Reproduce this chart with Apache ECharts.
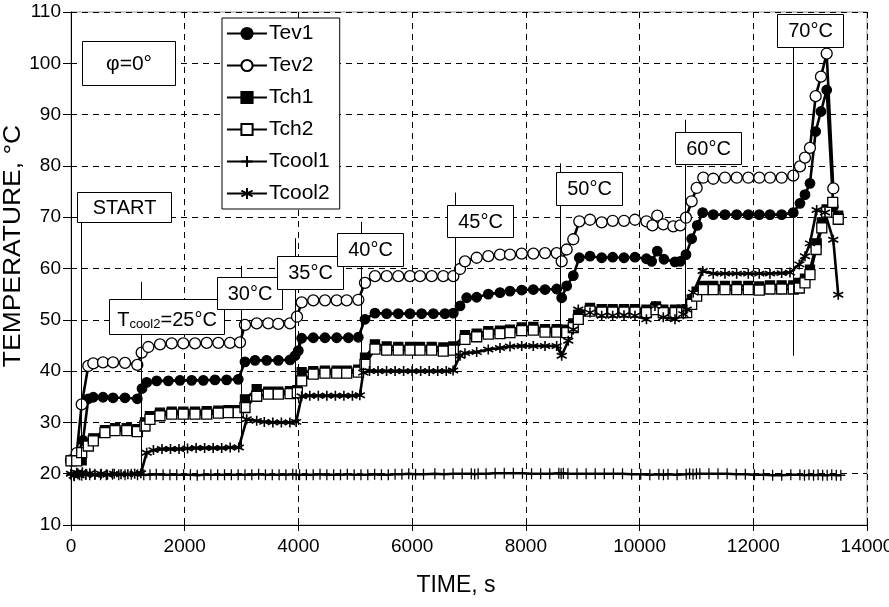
<!DOCTYPE html>
<html><head><meta charset="utf-8">
<script src="https://cdn.jsdelivr.net/npm/echarts@6/dist/echarts.min.js"></script>
<style>html,body{margin:0;padding:0;background:#fff}#c{width:889px;height:607px}</style>
</head><body><div id="c"></div>
<script>
// ---------------- DATA ----------------
const xTicks = [0, 2000, 4000, 6000, 8000, 10000, 12000, 14000];
const yTicks = [10, 20, 30, 40, 50, 60, 70, 80, 90, 100, 110];
const seriesNames = ['Tev1', 'Tev2', 'Tch1', 'Tch2', 'Tcool1', 'Tcool2'];

const tev1 = [[0,22.5],[100,23.2],[211,26.5],[304,34.6],[392,34.9],[563,34.9],[739,34.8],[950,34.8],[1166,34.6],[1249,36.6],[1331,37.8],[1507,38.1],[1712,38.1],[1917,38.2],[2122,38.2],[2327,38.2],[2532,38.3],[2737,38.3],[2942,38.4],[3060,41.8],[3237,42.1],[3442,42.1],[3647,42.1],[3852,42.2],[3940,43.0],[3998,44.0],[4057,46.4],[4261,46.5],[4467,46.5],[4673,46.5],[4879,46.5],[5053,46.6],[5171,50.1],[5346,51.3],[5552,51.2],[5756,51.2],[5962,51.2],[6167,51.2],[6373,51.2],[6578,51.2],[6724,51.3],[6842,52.7],[6959,54.3],[7135,54.4],[7339,55.0],[7545,55.3],[7721,55.6],[7927,55.8],[8131,55.9],[8337,55.9],[8542,56.0],[8630,54.3],[8718,56.6],[8834,58.6],[8940,62.1],[9128,62.4],[9334,62.1],[9527,62.2],[9726,62.1],[9919,62.2],[10121,61.9],[10213,61.4],[10311,63.4],[10429,61.8],[10623,61.3],[10716,61.4],[10816,62.7],[10916,65.8],[11015,68.4],[11110,70.9],[11296,70.5],[11502,70.5],[11708,70.5],[11912,70.5],[12105,70.5],[12294,70.5],[12499,70.5],[12703,70.9],[12821,72.7],[12909,74.4],[12997,76.6],[13097,86.7],[13190,90.6],[13291,94.8],[13407,72.0]];

const tev2 = [[0,22.6],[100,24.0],[188,33.5],[304,41.0],[392,41.5],[563,41.7],[739,41.7],[950,41.6],[1166,41.2],[1243,43.6],[1360,44.7],[1565,45.2],[1771,45.4],[1975,45.4],[2181,45.4],[2387,45.5],[2591,45.5],[2796,45.5],[2972,45.6],[3060,49.0],[3266,49.3],[3470,49.3],[3646,49.2],[3852,49.3],[3975,50.6],[4057,53.4],[4261,53.8],[4467,53.8],[4673,53.8],[4849,53.8],[5053,53.9],[5171,57.2],[5346,58.5],[5552,58.5],[5756,58.5],[5962,58.5],[6138,58.5],[6344,58.5],[6548,58.5],[6724,58.5],[6842,59.9],[6929,61.4],[7135,62.1],[7339,62.4],[7545,62.7],[7721,62.7],[7927,62.9],[8131,62.9],[8337,63.0],[8542,63.0],[8630,61.4],[8718,63.7],[8834,65.7],[8940,69.2],[9128,69.5],[9334,69.0],[9527,69.3],[9726,69.3],[9919,69.5],[10121,69.2],[10227,68.4],[10311,70.3],[10417,68.6],[10593,68.2],[10716,68.4],[10816,69.9],[10916,73.1],[11004,75.7],[11120,77.7],[11296,77.5],[11502,77.7],[11708,77.7],[11912,77.7],[12105,77.7],[12294,77.7],[12499,77.7],[12703,78.1],[12821,79.9],[12909,81.6],[12997,83.5],[13097,93.6],[13190,97.4],[13291,101.9],[13407,75.6]];

const tch1 = [[0,22.6],[100,22.6],[188,22.6],[304,25.9],[392,26.9],[598,28.5],[774,28.9],[980,28.9],[1166,28.7],[1301,30.0],[1389,31.2],[1565,31.9],[1771,32.1],[1975,32.1],[2181,32.1],[2387,32.2],[2591,32.3],[2767,32.4],[2942,32.4],[3060,34.5],[3266,36.5],[3470,36.0],[3646,36.0],[3852,36.1],[3980,36.3],[4057,39.8],[4261,40.0],[4467,40.1],[4673,40.1],[4849,40.1],[5053,40.3],[5171,42.6],[5346,45.2],[5552,44.8],[5756,44.7],[5962,44.7],[6138,44.7],[6344,44.7],[6548,44.6],[6724,44.8],[6929,47.0],[7135,47.3],[7339,47.8],[7545,47.9],[7721,48.1],[7927,48.5],[8131,48.6],[8337,48.2],[8542,48.2],[8718,48.1],[8834,49.3],[8922,51.0],[9128,52.3],[9334,52.1],[9527,52.1],[9726,52.1],[9919,52.1],[10121,52.0],[10290,52.6],[10417,52.0],[10623,52.0],[10740,52.0],[10828,52.1],[10916,54.0],[11004,55.5],[11120,56.6],[11296,56.6],[11502,56.6],[11708,56.6],[11912,56.6],[12105,56.5],[12294,56.7],[12499,56.7],[12703,56.7],[12809,57.2],[12909,58.0],[12997,59.8],[13115,64.9],[13205,69.0],[13291,71.5],[13397,72.5],[13494,70.3]];

const tch2 = [[0,22.5],[100,22.5],[188,24.1],[304,25.4],[392,26.4],[598,28.0],[774,28.4],[980,28.4],[1166,28.2],[1301,29.3],[1389,30.6],[1565,31.3],[1771,31.6],[1975,31.6],[2181,31.6],[2387,31.6],[2591,31.8],[2767,31.9],[2942,31.9],[3060,32.9],[3266,35.1],[3470,35.5],[3646,35.5],[3852,35.6],[3980,35.8],[4057,38.1],[4261,39.4],[4467,39.6],[4673,39.6],[4849,39.6],[5053,39.8],[5171,41.3],[5346,44.3],[5552,44.1],[5756,44.1],[5962,44.1],[6138,44.1],[6344,44.1],[6548,43.9],[6724,44.1],[6929,46.2],[7135,46.7],[7339,47.2],[7545,47.3],[7721,47.5],[7927,47.9],[8131,48.0],[8337,47.6],[8542,47.6],[8718,47.5],[8834,48.5],[8922,50.1],[9128,51.7],[9334,51.5],[9527,51.5],[9726,51.5],[9919,51.5],[10121,51.4],[10290,52.0],[10417,51.4],[10623,51.4],[10740,51.4],[10828,51.4],[10916,53.0],[11004,54.6],[11120,55.9],[11296,55.9],[11502,55.9],[11708,55.9],[11912,55.9],[12105,55.8],[12294,56.0],[12499,56.0],[12703,56.0],[12809,56.2],[12909,57.2],[12997,58.8],[13105,63.7],[13205,67.9],[13291,71.0],[13397,72.9],[13494,69.6]];

const tcool1 = [[0,19.8],[60,19.6],[120,20.0],[190,19.7],[260,19.9],[330,19.8],[420,19.9],[520,19.8],[620,19.8],[730,19.9],[840,19.8],[950,19.8],[1060,19.9],[1170,19.8],[1280,19.8],[1390,19.8],[1500,19.9],[1620,19.8],[1740,19.8],[1860,19.8],[1980,19.8],[2100,19.8],[2220,19.7],[2340,19.8],[2460,19.8],[2580,19.8],[2700,19.8],[2820,19.8],[2940,19.8],[3060,19.8],[3180,19.8],[3300,19.9],[3420,19.8],[3540,19.8],[3660,19.8],[3780,19.8],[3900,19.9],[3960,19.8],[4020,19.8],[4140,19.8],[4260,19.8],[4380,19.9],[4500,19.8],[4620,19.8],[4740,19.8],[4860,19.9],[4980,19.8],[5100,19.8],[5220,19.8],[5340,19.9],[5460,19.8],[5580,19.8],[5700,19.9],[5820,19.9],[5940,20.0],[6060,19.9],[6200,19.9],[6400,20.0],[6560,19.9],[6720,20.0],[6880,20.0],[7040,20.0],[7100,19.9],[7160,20.0],[7300,20.0],[7460,20.1],[7620,20.1],[7780,20.1],[7940,20.1],[8100,20.0],[8260,20.0],[8420,20.0],[8580,20.1],[8620,20.0],[8660,20.1],[8740,20.0],[8900,20.0],[9060,20.0],[9220,20.0],[9380,20.0],[9540,20.0],[9700,20.0],[9860,19.9],[10020,19.9],[10180,19.8],[10340,19.9],[10420,19.8],[10500,19.9],[10660,19.8],[10820,19.9],[10880,20.0],[10940,19.9],[11000,20.0],[11060,20.0],[11220,20.0],[11380,20.0],[11540,20.0],[11700,19.9],[11860,19.9],[12020,19.8],[12180,19.8],[12340,19.7],[12500,19.7],[12660,19.8],[12820,19.8],[12900,19.7],[12980,19.8],[13060,19.7],[13140,19.8],[13220,19.7],[13300,19.7],[13380,19.8],[13460,19.7],[13540,19.7]];

const tcool2 = [[0,20.0],[50,19.6],[100,20.2],[150,19.7],[200,20.3],[260,19.8],[330,20.1],[420,19.8],[530,20.0],[640,19.8],[760,20.0],[880,19.9],[1000,19.9],[1120,20.0],[1230,20.1],[1331,24.1],[1450,24.6],[1600,24.8],[1750,24.8],[1900,24.8],[2050,24.9],[2200,25.0],[2350,25.0],[2500,25.0],[2650,25.0],[2800,25.1],[2950,25.1],[3090,30.6],[3266,30.3],[3400,30.1],[3550,30.0],[3700,30.0],[3850,30.0],[3960,30.1],[4057,35.1],[4200,35.2],[4350,35.2],[4500,35.2],[4650,35.2],[4800,35.2],[4950,35.2],[5080,35.3],[5141,39.7],[5250,40.0],[5400,40.0],[5550,40.0],[5700,40.0],[5850,40.0],[6000,40.0],[6150,40.0],[6300,40.0],[6450,40.0],[6600,40.0],[6720,40.1],[6842,43.0],[6929,43.5],[7135,43.7],[7339,44.2],[7545,44.5],[7721,44.8],[7927,44.9],[8131,44.9],[8337,44.9],[8542,44.9],[8630,43.0],[8746,45.9],[8834,48.1],[8922,52.0],[9128,51.4],[9334,50.8],[9527,50.8],[9726,50.9],[9919,50.8],[10121,50.1],[10271,52.7],[10417,50.5],[10623,50.1],[10769,51.1],[10828,52.0],[10944,55.3],[11110,59.5],[11296,59.0],[11502,59.0],[11708,59.0],[11912,59.0],[12105,59.0],[12294,59.0],[12499,59.1],[12645,59.2],[12809,60.8],[12909,62.4],[12997,64.9],[13115,71.4],[13261,70.9],[13407,65.6],[13494,54.9]];

// annotation texts and the time at which each marker line stands
const annotTexts = ['START', 'Tcool2=25°C', '30°C', '35°C', '40°C', '45°C', '50°C', '60°C', '70°C'];
const annotTimes = [188, 1243, 3002, 3940, 5101, 6753, 8612, 10811, 12703];
const annotTop = [71.4, 57.4, 60.5, 65.9, 69.1, 74.8, 80.5, 89.0, 103.0];
const annotBottom = [22.6, 20.0, 25.0, 30.0, 35.0, 40.0, 43.0, 50.5, 43.0];

// ---------------- LAYOUT / STYLE ----------------
const FONT = 'Liberation Sans, Arial, sans-serif';
const boxes = [
  [77,192,94,30],[109,299,115,35],[217,277,65,32],[277,256,66,33],[337,233,66,33],
  [447,205,66,32],[556,172,66,33],[675,132,66,32],[777,14,66,33]
];
const ASTER = 'path://M5,0L5,10M0.67,2.5L9.33,7.5M0.67,7.5L9.33,2.5';
const PLUS = 'path://M5,0L5,10M0,5L10,5';

const chart = echarts.init(document.getElementById('c'), null, {renderer: 'canvas'});

function mkSeries(name, data, symbol, size, fill) {
  return {
    name, type: 'line', data, symbol, symbolSize: size, showAllSymbol: true,
    xAxisIndex: 0, yAxisIndex: 0,
    lineStyle: {color: '#000', width: 2.6},
    itemStyle: {color: fill, borderColor: '#000', borderWidth: 1.3},
    emphasis: {disabled: true}, animation: false, z: 3
  };
}

const series = [
  {
    name: 'annot', type: 'line', data: [], xAxisIndex: 0, yAxisIndex: 0, z: 1,
    markLine: {
      silent: true, symbol: 'none', animation: false,
      label: {show: false},
      lineStyle: {color: '#000', width: 1, type: 'solid'},
      data: annotTimes.map((t, i) => [{coord: [t, annotTop[i]]}, {coord: [t, annotBottom[i]]}])
    }
  },
  mkSeries('Tev1', tev1, 'circle', 9.5, '#000'),
  mkSeries('Tev2', tev2, 'circle', 11, '#fff'),
  mkSeries('Tch1', tch1, 'rect', 9, '#000'),
  mkSeries('Tch2', tch2, 'rect', 10, '#fff'),
  mkSeries('Tcool1', tcool1, PLUS, [9, 11], '#000'),
  mkSeries('Tcool2', tcool2, ASTER, 10, '#000')
];
series[5].itemStyle.borderWidth = 1.4;
series[6].itemStyle.borderWidth = 1.6;

function txt(x, y, text, size, extra) {
  return {
    type: 'text', z: 60, x, y,
    style: Object.assign({text, fontSize: size, fontFamily: FONT, fill: '#000',
      textAlign: 'center', textVerticalAlign: 'middle', align: 'center', verticalAlign: 'middle'}, extra || {})
  };
}

const graphics = [];
boxes.forEach((b, i) => {
  graphics.push({
    type: 'rect', z: 50,
    shape: {x: b[0] + 0.5, y: b[1] + 0.5, width: b[2], height: b[3]},
    style: {fill: '#fff', stroke: '#000', lineWidth: 1}
  });
  const cx = b[0] + b[2] / 2 + 0.5, cy = b[1] + b[3] / 2 + 1;
  if (annotTexts[i].startsWith('Tcool2')) {
    graphics.push(txt(cx, cy, '{a|T}{b|cool2}{a|=25°C}', 20, {
      rich: {
        a: {fontSize: 20, fontFamily: FONT, fill: '#000', lineHeight: 26, verticalAlign: 'bottom'},
        b: {fontSize: 13, fontFamily: FONT, fill: '#000', lineHeight: 26, verticalAlign: 'bottom', padding: [10, 0, 0, 0]}
      }
    }));
  } else {
    graphics.push(txt(cx, cy, annotTexts[i], 20));
  }
});
graphics.push({
  type: 'rect', z: 50,
  shape: {x: 82.5, y: 41.5, width: 93, height: 44},
  style: {fill: '#fff', stroke: '#000', lineWidth: 1}
});
graphics.push(txt(129, 64, 'φ=0°', 21));
// axis titles
graphics.push(txt(456, 586, 'TIME, s', 23));
graphics.push(Object.assign(txt(14, 246, 'TEMPERATURE, °C', 23), {rotation: Math.PI / 2, scaleX: 1.15}));

const option = {
  backgroundColor: '#fff',
  animation: false,
  grid: {left: 71, right: 22, top: 12, bottom: 82, containLabel: false, outerBoundsMode: 'none',
         show: true, borderColor: '#9a9a9a', borderWidth: 1, backgroundColor: 'transparent'},
  legend: {
    data: seriesNames, orient: 'vertical', left: 222, top: 18,
    backgroundColor: '#fff', borderColor: '#000', borderWidth: 1,
    padding: [5, 10, 5, 4], itemGap: 11, itemWidth: 40, itemHeight: 14,
    textStyle: {fontSize: 21, fontFamily: FONT, color: '#000', padding: [0, 0, 0, -3]},
    z: 40
  },
  xAxis: [{
    type: 'value', min: xTicks[0], max: xTicks[xTicks.length - 1], interval: 2000,
    axisLine: {lineStyle: {color: '#000', width: 1}},
    axisTick: {length: 6, lineStyle: {color: '#000'}},
    axisLabel: {fontSize: 19, color: '#000', fontFamily: FONT, margin: 12, formatter: v => String(v)},
    splitLine: {show: true, lineStyle: {color: '#000', width: 1, type: [6, 5]}}
  }, {
    type: 'value', min: xTicks[0], max: xTicks[xTicks.length - 1], interval: 2000, position: 'bottom',
    axisLine: {show: false}, axisLabel: {show: false}, splitLine: {show: false},
    axisTick: {show: true, inside: true, length: 5, lineStyle: {color: '#000'}}
  }],
  yAxis: [{
    type: 'value', min: yTicks[0], max: yTicks[yTicks.length - 1], interval: 10,
    axisLine: {show: true, lineStyle: {color: '#000', width: 1}},
    axisTick: {show: true, length: 8, lineStyle: {color: '#000'}},
    axisLabel: {fontSize: 19, color: '#000', fontFamily: FONT, margin: 10},
    splitLine: {show: true, lineStyle: {color: '#000', width: 1, type: [6, 5]}}
  }, {
    type: 'value', min: yTicks[0], max: yTicks[yTicks.length - 1], interval: 10, position: 'left',
    axisLine: {show: false}, axisLabel: {show: false}, splitLine: {show: false},
    axisTick: {show: true, inside: true, length: 5, lineStyle: {color: '#000'}}
  }],
  series,
  graphic: graphics
};
chart.setOption(option);
</script></body></html>
